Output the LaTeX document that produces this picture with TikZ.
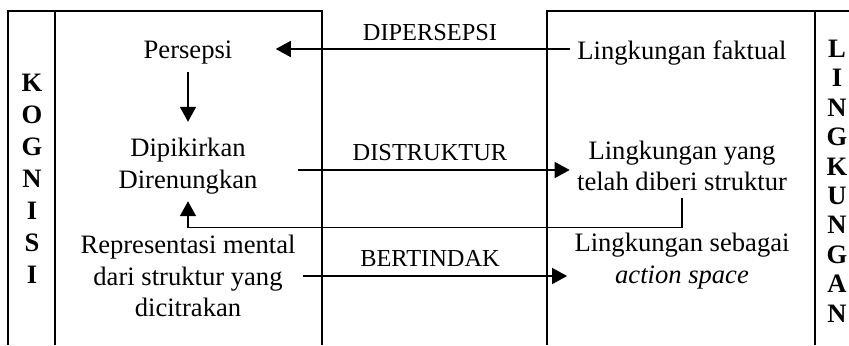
\documentclass[tikz,border=0pt]{standalone}
\usepackage{fontspec}
\setmainfont{Liberation Serif}
\usetikzlibrary{arrows.meta}

\begin{document}
\begin{tikzpicture}[x=0.5pt, y=-0.5pt, line width=0.75pt,
        teks/.style={align=center, font=\fontsize{13.3}{15.7}\selectfont},
        aksi/.style={font=\fontsize{12.2}{14}\selectfont},
        huruf/.style={align=center, font=\fontsize{13.3}{16}\selectfont\bfseries},
        panah/.style={-{Triangle[length=7.5pt, width=8pt]}}]
        \useasboundingbox (0,0) rectangle (849,345);

        % Kognisi frame
        \draw (8,345) -- (8,11) -- (322,11) -- (322,345);
        \draw (55,11) -- (55,345);
        \node[huruf] (kognisi) at (32,179) {K\\O\\G\\N\\I\\S\\I};

        % Lingkungan frame
        \draw (547,345) -- (547,11) -- (849,11);
        \draw (815,11) -- (815,345);
        \node[huruf, font=\fontsize{13.3}{14.7}\selectfont\bfseries] (lingkungan) at (837,181) {L\\I\\N\\G\\K\\U\\N\\G\\A\\N};

        % Kognisi side
        \node[teks] (persepsi) at (188,53) {Persepsi};
        \node[teks] (dipikir) at (188,166) {Dipikirkan\\Direnungkan};
        \node[teks] (represent) at (188,276) {Representasi mental\\dari struktur yang\\dicitrakan};

        % Lingkungan side
        \node[teks] (faktual) at (682,53) {Lingkungan faktual};
        \node[teks] (struktur) at (682,166) {Lingkungan yang\\telah diberi struktur};
        \node[teks] (action) at (682,261) {Lingkungan sebagai\\\textit{action space}};

        % Labels
        \node[aksi] (dipersepsi) at (430,33) {DIPERSEPSI};
        \node[aksi] (distruktur) at (430,153) {DISTRUKTUR};
        \node[aksi] (bertindak) at (430,258) {BERTINDAK};

        % Connections
        \draw[panah] ([yshift=2pt]faktual.west) -- ([xshift=18pt,yshift=2pt]persepsi.east);
        \draw[panah] (persepsi) -- ([yshift=4.5pt]dipikir.north);
        \draw[panah] ([xshift=16.5pt,yshift=-2pt]dipikir.east) -- ([yshift=-2pt]struktur.west);
        \draw[panah] (struktur.south) -- ++(0,29) -| (dipikir.south);
        \draw[panah] (represent.east) -- (represent.east -| action.west);
    \end{tikzpicture}
\end{document}
